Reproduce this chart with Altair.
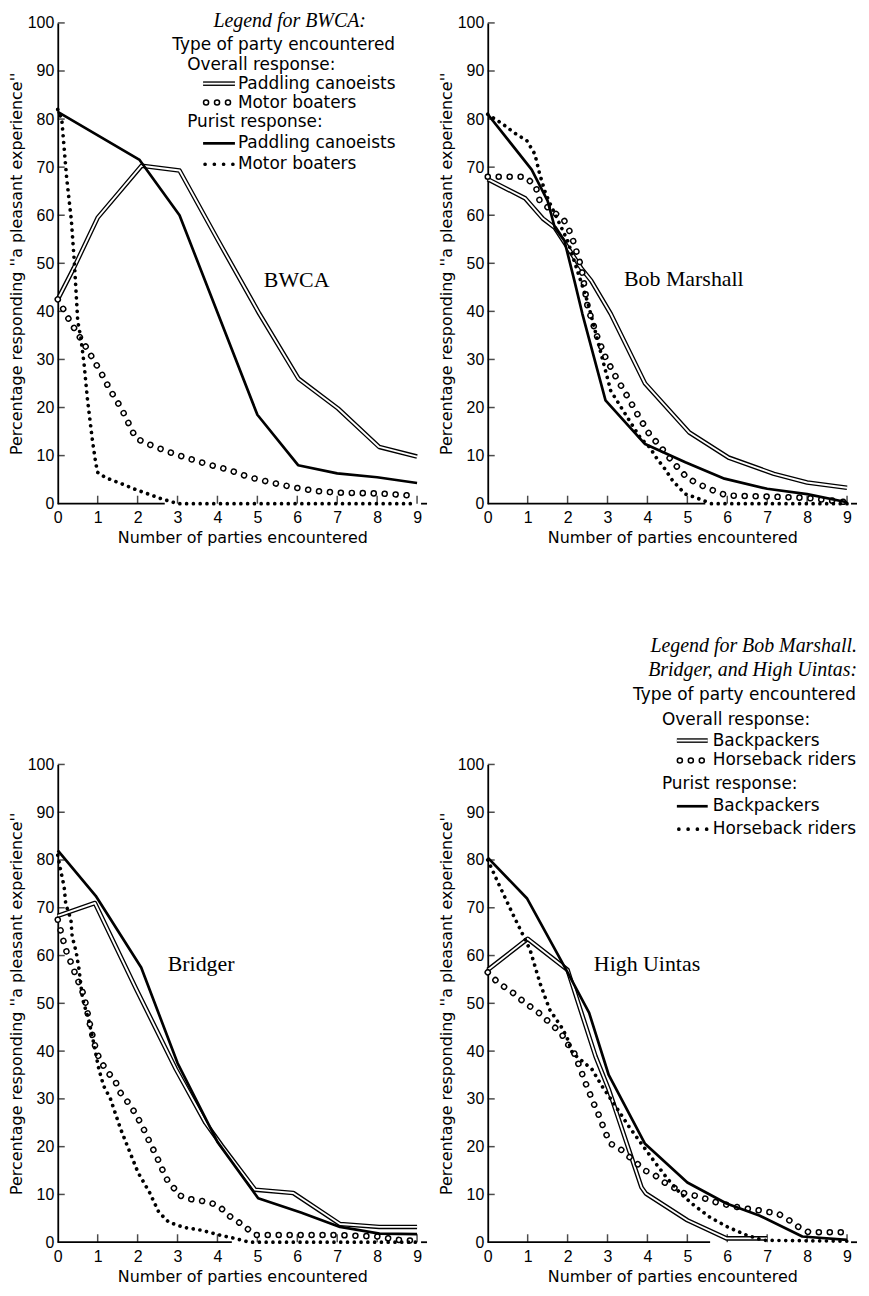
import altair as alt
import pandas as pd

# ---------------- data ----------------
X_TICKS = [0, 1, 2, 3, 4, 5, 6, 7, 8, 9]
Y_TICKS = [0, 10, 20, 30, 40, 50, 60, 70, 80, 90, 100]

# BWCA
bwca_overall_canoe_x = [0, 0.4, 1, 2.1, 3.05, 4, 5.05, 6.03, 7.02, 8.05, 9]
bwca_overall_canoe_y = [42.5, 49, 59.5, 70.3, 69.3, 55, 39.5, 26, 19.8, 11.8, 9.8]
bwca_purist_canoe_x = [0, 2.05, 3.05, 5, 6.02, 7, 8, 9]
bwca_purist_canoe_y = [81.5, 71.5, 60, 18.5, 8, 6.3, 5.5, 4.3]
bwca_overall_motor_x = [0, 0.15, 0.3, 0.45, 0.6, 0.75, 0.9, 1.05, 1.3, 1.6, 1.95, 2.2, 2.7,
                        3.2, 3.75, 4.3, 4.8, 5.4, 5.9, 6.5, 7, 7.6, 8.1, 8.7, 9]
bwca_overall_motor_y = [42.5, 40.3, 38, 36, 34, 32, 29.8, 27.8, 23.8, 19.7, 13.7, 12.6, 11,
                        9.6, 8.2, 7, 5.5, 4.3, 3.4, 2.6, 2.3, 2.2, 2.1, 1.8, 1.4]
bwca_purist_motor_x = [0, 0.1, 0.22, 0.34, 0.42, 0.5, 0.58, 0.66, 0.74, 0.86, 0.95, 1.0,
                       1.2, 1.55, 1.9, 2.27, 2.6, 2.85, 3.0, 9.0]
bwca_purist_motor_y = [82, 80, 68, 59, 49.6, 38, 34.4, 29, 22, 13.7, 8.5, 6.5,
                       5.4, 4.3, 3.1, 2, 1, 0.4, 0, 0]

# Bob Marshall
bob_overall_back_x = [0, 0.94, 1.38, 1.68, 2.34, 2.59, 3.08, 3.94, 5.05, 6.03, 7.17, 8, 9]
bob_overall_back_y = [67.5, 63.5, 59.3, 57.4, 49, 46.4, 39.5, 25, 14.8, 9.6, 6.2, 4.4, 3.3]
bob_purist_back_x = [0, 1.1, 1.5, 1.68, 1.92, 2.17, 2.37, 2.95, 3.94, 4.95, 5.93, 7, 8, 9]
bob_purist_back_y = [81, 69.5, 63, 57.4, 54.7, 46.4, 39.5, 21.5, 12.4, 8.6, 5.2, 3.1, 2, 0.3]
bob_overall_horse_x = [0, 0.35, 0.64, 0.94, 1.2, 1.3, 1.75, 1.92, 2.09, 2.2, 2.35, 2.5, 2.73,
                       2.95, 3.22, 3.52, 3.77, 4.06, 4.26, 4.61, 4.98, 5.2, 5.49, 5.72, 5.99,
                       7, 8, 9]
bob_overall_horse_y = [68, 68, 68, 68, 66, 63, 60, 58.8, 56, 53, 49, 41, 35,
                       30.4, 26.2, 22, 18.3, 14.3, 12.5, 8.9, 5.5, 4.4, 3.3, 2.5, 1.7,
                       1.5, 1.2, 0.3]
bob_purist_horse_x = [0, 0.37, 0.69, 0.98, 1.18, 1.3, 1.43, 1.55, 2.0, 2.5, 3.08, 3.6, 3.82,
                      4.06, 4.22, 4.43, 4.63, 4.8, 4.95, 5.2, 5.45, 5.6, 9]
bob_purist_horse_y = [81, 79, 77, 75.5, 72.7, 68.6, 65, 62.6, 54.7, 42, 23.5, 16.6, 13.7,
                      11.7, 9.6, 7.3, 4.8, 3.3, 2, 1.3, 0.5, 0, 0]

# Bridger
bri_overall_back_x = [0, 0.93, 1.97, 2.96, 3.7, 4.11, 4.94, 5.9, 7.07, 8.05, 9]
bri_overall_back_y = [68.3, 71, 52.9, 36.2, 25, 20.2, 11, 10.3, 3.8, 3.2, 3.2]
bri_purist_back_x = [0, 0.95, 2.09, 3.0, 4.0, 5.02, 6.09, 7.07, 8.06, 9]
bri_purist_back_y = [82, 72.5, 57.5, 37.5, 21, 9.2, 6.2, 3.2, 1.8, 1.7]
bri_overall_horse_x = [0, 0.08, 0.16, 0.24, 0.36, 0.46, 0.57, 0.66, 0.83, 0.98, 1.1, 1.27,
                       1.44, 1.53, 1.73, 1.9, 2.02, 2.15, 2.26, 2.5, 2.63, 2.75, 2.92, 3.0,
                       3.25, 3.54, 3.83, 4.07, 4.28, 4.53, 4.74, 4.94, 6, 7, 8, 8.5, 9]
bri_overall_horse_y = [67.5, 65, 62.5, 60.2, 58, 55.6, 53.5, 51.5, 44.6, 39.6, 37.5, 35.4,
                       33.8, 31.7, 29.6, 27.5, 25.8, 23.7, 21.7, 17.5, 15, 12.9, 11.2, 10,
                       9.1, 8.75, 8.3, 7.3, 5.6, 4.2, 2.9, 1.5, 1.5, 1.5, 1.2, 0.5, 0.3]
bri_purist_horse_x = [0, 0.08, 0.16, 0.2, 0.33, 0.36, 0.46, 0.53, 0.62, 0.78, 0.9, 1.03,
                      1.15, 1.32, 1.57, 1.77, 2.01, 2.3, 2.53, 2.78, 3.16, 3.6, 4.05, 4.43,
                      4.8, 9]
bri_purist_horse_y = [81, 77.5, 74.4, 70.8, 67.5, 64, 60.8, 57.3, 51, 46.3, 41.7, 36.2,
                      32.7, 30, 23.8, 19.6, 14.6, 10.4, 6.3, 4.2, 3.1, 2.5, 1.5, 0.8,
                      0, 0]

# High Uintas
hu_overall_back_x = [0, 1.0, 2.0, 2.7, 3.03, 3.85, 3.96, 5.0, 5.98, 7.0]
hu_overall_back_y = [57, 63.5, 57, 38.9, 32, 11.5, 10.2, 4.6, 0.8, 0.8]
hu_purist_back_x = [0, 0.98, 2.0, 2.54, 3.03, 3.94, 5.0, 5.98, 6.8, 7.88, 9]
hu_purist_back_y = [80.5, 72, 56.5, 48, 35, 20.6, 12.5, 8.1, 5.6, 1.2, 0.5]
hu_overall_horse_x = [0, 0.27, 0.52, 0.74, 0.94, 1.18, 1.38, 1.59, 1.84, 1.97, 2.13, 2.22,
                      2.33, 2.41, 2.52, 2.62, 2.74, 2.95, 3.08, 3.28, 3.94, 4.19, 4.43,
                      4.93, 5.17, 5.42, 5.74, 6.28, 6.77, 7.27, 7.55, 7.8, 8.04, 9]
hu_overall_horse_y = [56.5, 54.2, 52.9, 51.5, 50, 48.7, 47.3, 45.6, 43.8, 41.7, 40.4, 38.3,
                      36.2, 34, 32, 29.6, 27.5, 22.9, 20.6, 19.8, 15, 14, 12.5,
                      10.2, 9.8, 9.2, 8.3, 7.3, 6.7, 6, 4.6, 3.1, 2.1, 2.1]
hu_purist_horse_x = [0, 0.25, 0.62, 0.9, 1.06, 1.31, 1.55, 1.88, 2.0, 2.12, 2.37, 2.61,
                     2.86, 3.2, 3.52, 3.85, 4.19, 4.5, 4.83, 5.17, 5.57, 6.03, 6.48, 6.9, 9]
hu_purist_horse_y = [80, 75.4, 68.8, 64, 61.2, 54.2, 48.7, 44.6, 42.5, 39.6, 37.9, 36.2,
                     32.7, 28.5, 24.4, 20.6, 16.7, 13.3, 10.2, 7.7, 5.2, 3.1, 1.5, 0.4, 0.2]

PANEL_NAMES = ["BWCA", "Bob Marshall", "Bridger", "High Uintas"]
X_TITLE = "Number of parties encountered"
Y_TITLE = "Percentage responding ''a pleasant experience''"

# ---------------- styling ----------------
SANS = "DejaVu Sans"
TICKF = "Liberation Sans"
SERIF = "Liberation Serif"
W = 371
H_TOP = 483
H_BOT = 480
XSCALE = alt.Scale(domain=[0, 9.25], nice=False, zero=False)
YSCALE = alt.Scale(domain=[0, 100], nice=False, zero=False)

AX_X = alt.Axis(values=X_TICKS, title=X_TITLE, domain=False, ticks=False, tickSize=0,
                grid=False, labelFont=TICKF, labelFontSize=16, labelColor="black",
                labelPadding=6, labelFlush=False, labelOverlap=False,
                titleFont=SANS, titleFontSize=16, titleFontWeight="normal",
                titleColor="black", titlePadding=4)
AX_Y = alt.Axis(values=Y_TICKS, title=Y_TITLE, domain=True, domainColor="black",
                domainWidth=1.8, ticks=False, tickSize=0, grid=False,
                labelFont=TICKF, labelFontSize=16, labelColor="black", labelPadding=4,
                labelOverlap=False,
                titleFont=SANS, titleFontSize=16, titleFontWeight="normal",
                titleColor="black", titlePadding=3)


def frame(xs, ys):
    return pd.DataFrame({"x": xs, "y": ys})


def pos(ch):
    return ch.encode(x=alt.X("x:Q", scale=XSCALE, axis=AX_X),
                     y=alt.Y("y:Q", scale=YSCALE, axis=AX_Y))


def double_line(df):
    outer = pos(alt.Chart(df).mark_line(color="black", strokeWidth=4.6, strokeJoin="round"))
    inner = pos(alt.Chart(df).mark_line(color="white", strokeWidth=1.9, strokeJoin="round"))
    return [outer, inner]


def solid_line(df):
    return [pos(alt.Chart(df).mark_line(color="black", strokeWidth=2.7, strokeJoin="round"))]


def circle_line(df):
    outer = pos(alt.Chart(df).mark_line(color="black", strokeWidth=6.6, strokeCap="round",
                                        strokeDash=[0.01, 11]))
    inner = pos(alt.Chart(df).mark_line(color="white", strokeWidth=3.6, strokeCap="round",
                                        strokeDash=[0.01, 11]))
    return [outer, inner]


def dot_line(df):
    return [pos(alt.Chart(df).mark_line(color="black", strokeWidth=3.7, strokeCap="round",
                                        strokeDash=[0.01, 6.8]))]


def note(text, x, y, align="left", font=SANS, size=17, style="normal"):
    return alt.Chart(pd.DataFrame({"t": [text]})).mark_text(
        align=align, baseline="middle", font=font, fontSize=size, fontStyle=style,
        color="black").encode(text="t:N", x=alt.value(x), y=alt.value(y))


def sample(kind, x1, x2, y):
    d = pd.DataFrame({"k": [kind]})
    enc = dict(x=alt.value(x1), x2=alt.value(x2), y=alt.value(y))
    if kind == "double":
        return [alt.Chart(d).mark_rule(color="black", strokeWidth=4.6).encode(**enc),
                alt.Chart(d).mark_rule(color="white", strokeWidth=1.9).encode(**enc)]
    if kind == "solid":
        return [alt.Chart(d).mark_rule(color="black", strokeWidth=2.7).encode(**enc)]
    if kind == "circles":
        return [alt.Chart(d).mark_rule(color="black", strokeWidth=6.6, strokeCap="round",
                                       strokeDash=[0.01, 11]).encode(**enc),
                alt.Chart(d).mark_rule(color="white", strokeWidth=3.6, strokeCap="round",
                                       strokeDash=[0.01, 11]).encode(**enc)]
    return [alt.Chart(d).mark_rule(color="black", strokeWidth=3.7, strokeCap="round",
                                   strokeDash=[0.01, 9.3]).encode(**enc)]


def axis_bits(x_solid_end):
    line = pd.DataFrame({"x": [0, 9.1], "x2": [x_solid_end, 9.25], "y": [0, 0]})
    rule = alt.Chart(line).mark_rule(color="black", strokeWidth=1.8).encode(
        x=alt.X("x:Q", scale=XSCALE, axis=AX_X), x2="x2:Q",
        y=alt.Y("y:Q", scale=YSCALE, axis=AX_Y))
    xt = pos(alt.Chart(frame(X_TICKS[1:], [0] * 9)).mark_tick(
        orient="vertical", size=8, thickness=1.5, color="black", yOffset=-4))
    yt = pos(alt.Chart(frame([0] * 10, Y_TICKS[1:])).mark_tick(
        orient="horizontal", size=7, thickness=1.5, color="black", xOffset=3.5))
    return [rule, xt, yt]


def panel(series, x_solid_end, name, name_xy, height, extra):
    layers = []
    layers += axis_bits(x_solid_end)
    ov_a, pu_a, ov_b, pu_b = series
    layers += double_line(ov_a)
    layers += circle_line(ov_b)
    layers += solid_line(pu_a)
    layers += dot_line(pu_b)
    layers.append(note(name, name_xy[0], name_xy[1], align="center", font=SERIF, size=22))
    layers += extra
    return alt.layer(*layers).properties(width=W, height=height)


# ---- legends ----
legend_bwca = [
    note("Legend for BWCA:", 233, -2, align="center", font=SERIF, size=20, style="italic"),
    note("Type of party encountered", 115, 22),
    note("Overall response:", 130, 42),
    *sample("double", 146, 178, 61), note("Paddling canoeists", 181, 61),
    *sample("circles", 149, 171.1, 80), note("Motor boaters", 181, 80),
    note("Purist response:", 130, 100),
    *sample("solid", 146, 178, 121), note("Paddling canoeists", 181, 121),
    *sample("dots", 148, 176, 142), note("Motor boaters", 181, 142),
]

legend_other = [
    note("Legend for Bob Marshall.", 371, -119, align="right", font=SERIF, size=20, style="italic"),
    note("Bridger, and High Uintas:", 371, -95, align="right", font=SERIF, size=20, style="italic"),
    note("Type of party encountered", 146, -70),
    note("Overall response:", 175, -45),
    *sample("double", 190, 221, -24), note("Backpackers", 226, -24),
    *sample("circles", 193, 215.1, -4), note("Horseback riders", 226, -4),
    note("Purist response:", 175, 20),
    *sample("solid", 190, 221, 42), note("Backpackers", 226, 42),
    *sample("dots", 192, 220, 65), note("Horseback riders", 226, 65),
]

# invisible spacer so that both bottom panels reserve the same room above the plot
spacer = alt.Chart(pd.DataFrame({"k": [0]})).mark_rule(strokeOpacity=0, color="white").encode(
    x=alt.value(0), y=alt.value(-129), y2=alt.value(0))

tl = panel([frame(bwca_overall_canoe_x, bwca_overall_canoe_y),
            frame(bwca_purist_canoe_x, bwca_purist_canoe_y),
            frame(bwca_overall_motor_x, bwca_overall_motor_y),
            frame(bwca_purist_motor_x, bwca_purist_motor_y)],
           2.68, PANEL_NAMES[0], (240, 258), H_TOP, legend_bwca)

tr = panel([frame(bob_overall_back_x, bob_overall_back_y),
            frame(bob_purist_back_x, bob_purist_back_y),
            frame(bob_overall_horse_x, bob_overall_horse_y),
            frame(bob_purist_horse_x, bob_purist_horse_y)],
           5.45, PANEL_NAMES[1], (197, 257), H_TOP, [])

bl = panel([frame(bri_overall_back_x, bri_overall_back_y),
            frame(bri_purist_back_x, bri_purist_back_y),
            frame(bri_overall_horse_x, bri_overall_horse_y),
            frame(bri_purist_horse_x, bri_purist_horse_y)],
           4.36, PANEL_NAMES[2], (144, 201), H_BOT, [spacer])

br = panel([frame(hu_overall_back_x, hu_overall_back_y),
            frame(hu_purist_back_x, hu_purist_back_y),
            frame(hu_overall_horse_x, hu_overall_horse_y),
            frame(hu_purist_horse_x, hu_purist_horse_y)],
           5.57, PANEL_NAMES[3], (160, 201), H_BOT, legend_other)

top = alt.hconcat(tl, tr, spacing=7)
bottom = alt.hconcat(bl, br, spacing=7)

chart = alt.vconcat(top, bottom, spacing=91).properties(
    padding={"left": 0, "top": 0, "right": 0, "bottom": 0},
    background="white",
).configure_view(stroke=None)

chart.save("out.html", embed_options={"renderer": "svg", "actions": False})
